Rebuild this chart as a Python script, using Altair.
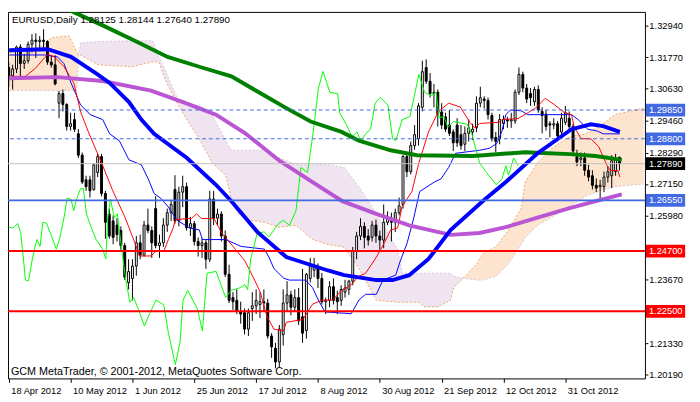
import json
import altair as alt
import pandas as pd

W, H = 650, 374
Y_DOMAIN = [1.20049, 1.33432]
X_DOMAIN = [-0.2, 164.6]
FONT = "Liberation Sans"

# ---------------- candles (bar index 0 = 18 Apr 2012) ----------------
opens = [1.3140, 1.3110, 1.3135, 1.3215, 1.3155, 1.3165, 1.3225, 1.3240, 1.3235, 1.3240,
         1.3235, 1.3160, 1.3150, 1.3010, 1.3045, 1.3005, 1.2925, 1.2950, 1.2898, 1.2820,
         1.2730, 1.2730, 1.2695, 1.2757, 1.2815, 1.2680, 1.2605, 1.2580, 1.2565, 1.2545,
         1.2490, 1.2355, 1.2370, 1.2415, 1.2500, 1.2455, 1.2565, 1.2545, 1.2625, 1.2490,
         1.2500, 1.2565, 1.2610, 1.2695, 1.2580, 1.2685, 1.2705, 1.2555, 1.2570, 1.2505,
         1.2490, 1.2500, 1.2440, 1.2660, 1.2590, 1.2605, 1.2525, 1.2385, 1.2300, 1.2290,
         1.2250, 1.2245, 1.2185, 1.2260, 1.2270, 1.2275, 1.2285, 1.2280, 1.2160, 1.2115,
         1.2065, 1.2165, 1.2280, 1.2310, 1.2265, 1.2300, 1.2230, 1.2180, 1.2370, 1.2400,
         1.2415, 1.2370, 1.2285, 1.2290, 1.2340, 1.2300, 1.2290, 1.2320, 1.2330, 1.2360,
         1.2470, 1.2525, 1.2560, 1.2525, 1.2520, 1.2565, 1.2525, 1.2510, 1.2575, 1.2590,
         1.2575, 1.2610, 1.2640, 1.2815, 1.2760, 1.2855, 1.2880, 1.2995, 1.3140, 1.3090,
         1.3045, 1.3050, 1.2978, 1.2960, 1.2930, 1.2905, 1.2930, 1.2895, 1.2860, 1.2900,
         1.2905, 1.2920, 1.3010, 1.3025, 1.3020, 1.2965, 1.2885, 1.2880, 1.2935, 1.2950,
         1.2945, 1.2945, 1.3050, 1.3115, 1.3065, 1.3045, 1.3015, 1.3060, 1.2980, 1.2970,
         1.2935, 1.2930, 1.2935, 1.2905, 1.2940, 1.2955, 1.2925, 1.2815, 1.2805, 1.2810,
         1.2765, 1.2745, 1.2710, 1.2705, 1.2705, 1.2740, 1.2745, 1.2760, 1.28125]
highs = [1.3160, 1.3150, 1.3220, 1.3225, 1.3190, 1.3235, 1.3262, 1.3265, 1.3255, 1.3280,
         1.3240, 1.3185, 1.3185, 1.3055, 1.3060, 1.3010, 1.2975, 1.2975, 1.2915, 1.2830,
         1.2745, 1.2745, 1.2790, 1.2825, 1.2825, 1.2690, 1.2625, 1.2600, 1.2590, 1.2560,
         1.2500, 1.2440, 1.2440, 1.2525, 1.2530, 1.2580, 1.2625, 1.2560, 1.2670, 1.2530,
         1.2590, 1.2625, 1.2655, 1.2747, 1.2705, 1.2745, 1.2720, 1.2595, 1.2580, 1.2520,
         1.2515, 1.2510, 1.2690, 1.2690, 1.2625, 1.2615, 1.2545, 1.2420, 1.2320, 1.2330,
         1.2285, 1.2260, 1.2260, 1.2320, 1.2330, 1.2320, 1.2330, 1.2295, 1.2170, 1.2135,
         1.2200, 1.2330, 1.2360, 1.2325, 1.2330, 1.2335, 1.2405, 1.2390, 1.2445, 1.2445,
         1.2425, 1.2390, 1.2300, 1.2360, 1.2370, 1.2325, 1.2345, 1.2365, 1.2365, 1.2485,
         1.2540, 1.2590, 1.2575, 1.2550, 1.2580, 1.2585, 1.2545, 1.2640, 1.2615, 1.2610,
         1.2625, 1.2665, 1.2820, 1.2820, 1.2870, 1.2930, 1.3010, 1.3165, 1.3170, 1.3120,
         1.3080, 1.3060, 1.3010, 1.2975, 1.2985, 1.2915, 1.2955, 1.2930, 1.2925, 1.2950,
         1.2935, 1.3035, 1.3070, 1.3035, 1.3030, 1.2975, 1.2905, 1.2970, 1.2965, 1.2960,
         1.2975, 1.3060, 1.3140, 1.3125, 1.3080, 1.3065, 1.3070, 1.3075, 1.2995, 1.2985,
         1.2945, 1.2955, 1.2945, 1.2975, 1.3000, 1.2980, 1.2935, 1.2840, 1.2830, 1.2830,
         1.2785, 1.2765, 1.2735, 1.2730, 1.2760, 1.2780, 1.2820, 1.2825, 1.28144]
lows = [1.3070, 1.3060, 1.3120, 1.3105, 1.3135, 1.3155, 1.3195, 1.3175, 1.3200, 1.3200,
        1.3150, 1.3140, 1.3075, 1.2955, 1.2980, 1.2910, 1.2910, 1.2905, 1.2810, 1.2715,
        1.2690, 1.2665, 1.2690, 1.2740, 1.2670, 1.2515, 1.2515, 1.2495, 1.2505, 1.2475,
        1.2365, 1.2330, 1.2290, 1.2380, 1.2440, 1.2450, 1.2535, 1.2445, 1.2480, 1.2445,
        1.2485, 1.2540, 1.2580, 1.2570, 1.2560, 1.2630, 1.2545, 1.2525, 1.2490, 1.2450,
        1.2445, 1.2405, 1.2430, 1.2565, 1.2565, 1.2505, 1.2375, 1.2280, 1.2255, 1.2240,
        1.2205, 1.2165, 1.2160, 1.2215, 1.2240, 1.2225, 1.2250, 1.2150, 1.2080, 1.2042,
        1.2045, 1.2125, 1.2250, 1.2235, 1.2250, 1.2200, 1.2135, 1.2150, 1.2355, 1.2375,
        1.2335, 1.2275, 1.2240, 1.2265, 1.2275, 1.2240, 1.2270, 1.2300, 1.2310, 1.2345,
        1.2440, 1.2510, 1.2480, 1.2490, 1.2505, 1.2500, 1.2475, 1.2480, 1.2565, 1.2505,
        1.2540, 1.2600, 1.2625, 1.2740, 1.2750, 1.2840, 1.2855, 1.2980, 1.3080, 1.3030,
        1.2995, 1.2925, 1.2915, 1.2905, 1.2890, 1.2835, 1.2850, 1.2840, 1.2835, 1.2870,
        1.2875, 1.2905, 1.2995, 1.2990, 1.2950, 1.2870, 1.2830, 1.2860, 1.2915, 1.2920,
        1.2920, 1.2935, 1.3040, 1.3050, 1.3010, 1.3000, 1.3000, 1.2975, 1.2900, 1.2910,
        1.2885, 1.2915, 1.2880, 1.2890, 1.2930, 1.2905, 1.2825, 1.2780, 1.2780, 1.2745,
        1.2725, 1.2695, 1.2685, 1.2660, 1.2685, 1.2720, 1.2700, 1.2745, 1.27640]
closes = [1.3110, 1.3135, 1.3215, 1.3155, 1.3165, 1.3225, 1.3240, 1.3235, 1.3240, 1.3235,
          1.3160, 1.3150, 1.3080, 1.3045, 1.3005, 1.2925, 1.2935, 1.2915, 1.2820, 1.2722,
          1.2705, 1.2690, 1.2785, 1.2815, 1.2680, 1.2575, 1.2525, 1.2520, 1.2530, 1.2490,
          1.2375, 1.2395, 1.2415, 1.2500, 1.2455, 1.2565, 1.2545, 1.2500, 1.2490, 1.2500,
          1.2565, 1.2610, 1.2640, 1.2580, 1.2685, 1.2705, 1.2555, 1.2570, 1.2505, 1.2490,
          1.2500, 1.2440, 1.2660, 1.2590, 1.2605, 1.2525, 1.2385, 1.2290, 1.2285, 1.2250,
          1.2240, 1.2185, 1.2245, 1.2270, 1.2290, 1.2285, 1.2280, 1.2160, 1.2120, 1.2065,
          1.2185, 1.2280, 1.2310, 1.2265, 1.2300, 1.2215, 1.2170, 1.2385, 1.2415, 1.2415,
          1.2370, 1.2285, 1.2290, 1.2340, 1.2290, 1.2285, 1.2330, 1.2335, 1.2360, 1.2470,
          1.2525, 1.2560, 1.2520, 1.2510, 1.2565, 1.2525, 1.2510, 1.2575, 1.2590, 1.2575,
          1.2610, 1.2635, 1.2815, 1.2760, 1.2855, 1.2895, 1.3000, 1.3125, 1.3090, 1.3045,
          1.3050, 1.2970, 1.2930, 1.2915, 1.2900, 1.2865, 1.2865, 1.2855, 1.2900, 1.2920,
          1.2915, 1.3010, 1.3030, 1.3020, 1.2968, 1.2880, 1.2870, 1.2950, 1.2950, 1.2945,
          1.2950, 1.3050, 1.3115, 1.3065, 1.3025, 1.3030, 1.3060, 1.2985, 1.2965, 1.2925,
          1.2930, 1.2935, 1.2890, 1.2955, 1.2975, 1.2925, 1.2835, 1.2795, 1.2810, 1.2765,
          1.2740, 1.2710, 1.2700, 1.2710, 1.2740, 1.2760, 1.2800, 1.2805, 1.27890]

tick_index = [0, 16, 32, 48, 64, 80, 96, 112, 128, 144]
tick_dates = ["18 Apr 2012", "10 May 2012", "1 Jun 2012", "25 Jun 2012", "17 Jul 2012",
              "8 Aug 2012", "30 Aug 2012", "21 Sep 2012", "12 Oct 2012", "31 Oct 2012"]
price_ticks = [1.32940, 1.31770, 1.30630, 1.29460, 1.28290, 1.27150, 1.25980,
               1.23670, 1.21330, 1.20190]

# ---------------- horizontal levels ----------------
level_prices = [1.29850, 1.28800, 1.27890, 1.26550, 1.24700, 1.22500]
level_label = ["1.29850", "1.28800", "1.27890", "1.26550", "1.24700", "1.22500"]
level_line_color = ["#4169E1", "#4169E1", "#C0C0C0", "#4169E1", "#FF0000", "#FF0000"]
level_line_width = [1, 1, 1, 2, 2, 2]
level_dashed = [True, True, False, False, False, False]
level_box_color = ["#4169E1", "#4169E1", "#000000", "#4169E1", "#FF0000", "#FF0000"]

# ---------------- moving averages ----------------
sma200_i = [0, 16.1, 24.3, 32.6, 41.1, 49.3, 57.6, 64.8, 71.8, 78.1, 86.1, 90.6, 98.8,
            105.6, 120.1, 133.6, 145.1, 151.8, 158.6]
sma200_p = [1.3440, 1.3347, 1.3294, 1.3238, 1.3179, 1.3143, 1.3108, 1.3049, 1.2992, 1.2943,
            1.2905, 1.2873, 1.2838, 1.2820, 1.2817, 1.2831, 1.2824, 1.2817, 1.2803]
sma100_i = [0.1, 12.6, 24.3, 36.8, 45.1, 53.6, 61.1, 70.1, 78.6, 86.3, 95.1, 103.6, 114.3,
            121.8, 128.6, 136.8, 145.1, 153.6, 158.6]
sma100_p = [1.3101, 1.3105, 1.3091, 1.3056, 1.3014, 1.2968, 1.2901, 1.2799, 1.2722, 1.2652,
            1.2606, 1.2564, 1.2529, 1.2536, 1.2557, 1.2592, 1.2627, 1.2659, 1.2677]
sma55_i = [0.1, 10.1, 16.1, 22.6, 26.1, 31.1, 34.3, 37.6, 46.1, 53.6, 57.6, 64.3, 71.8,
           82.6, 86.8, 95.1, 99.3, 103.6, 108.6, 114.3, 122.6, 128.6, 136.8, 141.1, 145.6,
           150.6, 153.8, 158.1]
sma55_p = [1.3203, 1.3207, 1.3179, 1.3119, 1.3084, 1.3014, 1.2950, 1.2898, 1.2810, 1.2712,
           1.2652, 1.2540, 1.2448, 1.2399, 1.2382, 1.2364, 1.2364, 1.2382, 1.2441, 1.2547,
           1.2652, 1.2722, 1.2827, 1.2870, 1.2915, 1.2933, 1.2926, 1.2905]

# ---------------- Ichimoku ----------------
tenkan_i = [0.1, 4.3, 6.8, 10.1, 11.8, 14.3, 16.8, 18.6, 20.6, 24.3, 26.8, 30.1, 32.6, 33.8,
            36.8, 38.1, 40.1, 41.3, 42.6, 43.1, 47.3, 48.6, 49.8, 53.1, 55.1, 58.6, 61.1,
            63.6, 65.1, 66.8, 68.6, 71.1, 71.8, 76.1, 78.6, 81.1, 83.8, 86.1, 88.6, 90.6,
            92.3, 94.8, 96.3, 97.6, 98.8, 100.6, 101.8, 104.3, 106.1, 108.6, 111.1, 113.8,
            116.8, 119.3, 120.6, 121.8, 126.8, 127.6, 131.8, 136.3, 138.8, 141.3, 143.8,
            145.6, 146.3, 148.1, 150.6, 152.6, 154.8, 155.6, 157.6, 158.1]
tenkan_p = [1.3108, 1.3108, 1.3136, 1.3189, 1.3179, 1.3143, 1.3084, 1.2978, 1.2905, 1.2782,
            1.2694, 1.2592, 1.2501, 1.2452, 1.2452, 1.2469, 1.2469, 1.2512, 1.2557, 1.2585,
            1.2589, 1.2606, 1.2589, 1.2589, 1.2536, 1.2477, 1.2434, 1.2364, 1.2319, 1.2231,
            1.2185, 1.2178, 1.2210, 1.2220, 1.2276, 1.2291, 1.2291, 1.2326, 1.2347, 1.2378,
            1.2389, 1.2441, 1.2477, 1.2512, 1.2547, 1.2554, 1.2634, 1.2687, 1.2792, 1.2905,
            1.2978, 1.3010, 1.2996, 1.2940, 1.2919, 1.2936, 1.2940, 1.2950, 1.2954, 1.2992,
            1.3028, 1.3003, 1.2975, 1.2968, 1.2922, 1.2880, 1.2880, 1.2852, 1.2782, 1.2764,
            1.2764, 1.2740]
kijun_i = [0.1, 9.3, 12.6, 14.3, 16.1, 18.6, 21.1, 24.3, 26.1, 28.6, 31.1, 34.3, 36.1, 37.6,
           39.3, 41.1, 43.6, 46.8, 49.3, 50.1, 56.1, 60.1, 66.1, 67.3, 68.6, 71.1, 72.6,
           76.8, 78.6, 80.1, 81.8, 88.6, 90.6, 92.3, 95.1, 96.8, 100.1, 101.3, 103.1, 104.8,
           106.3, 110.1, 111.8, 113.8, 115.6, 121.8, 124.3, 126.3, 127.6, 128.6, 129.8, 132.6,
           134.3, 145.6, 147.3, 149.8, 152.3, 153.8, 158.1]
kijun_p = [1.3186, 1.3186, 1.3179, 1.3154, 1.3084, 1.3003, 1.2968, 1.2950, 1.2898, 1.2873,
           1.2803, 1.2785, 1.2733, 1.2680, 1.2663, 1.2634, 1.2582, 1.2554, 1.2547, 1.2512,
           1.2512, 1.2487, 1.2477, 1.2448, 1.2406, 1.2371, 1.2364, 1.2364, 1.2336, 1.2291,
           1.2248, 1.2241, 1.2291, 1.2312, 1.2312, 1.2364, 1.2382, 1.2434, 1.2501, 1.2592,
           1.2687, 1.2722, 1.2733, 1.2775, 1.2827, 1.2838, 1.2845, 1.2863, 1.2908, 1.2968,
           1.2985, 1.2982, 1.2968, 1.2968, 1.2950, 1.2915, 1.2908, 1.2898, 1.2898]
chikou_i = [0.1, 1.1, 2.3, 3.1, 3.8, 4.3, 5.1, 6.1, 6.8, 7.3, 8.1, 8.8, 9.8, 11.1, 12.3, 13.1,
            14.3, 15.1, 16.1, 16.8, 17.6, 18.6, 19.3, 20.1, 21.3, 22.6, 24.3, 25.1, 25.6,
            26.3, 27.3, 28.1, 29.3, 30.1, 31.3, 32.3, 33.6, 35.1, 36.1, 38.1, 40.1, 41.3,
            43.1, 44.3, 45.1, 46.3, 47.6, 48.8, 50.1, 51.3, 53.6, 56.1, 57.6, 59.8, 61.1,
            61.8, 62.6, 64.3, 66.1, 67.3, 68.6, 69.8, 71.1, 72.6, 74.3, 75.6, 77.3, 78.1,
            78.8, 80.1, 81.3, 83.1, 85.1, 85.6, 87.3, 88.8, 90.1, 91.1, 92.3, 93.6, 94.8,
            96.1, 98.1, 99.3, 100.1, 101.8, 103.8, 104.8, 106.1, 107.6, 109.3, 110.6, 111.3,
            112.6, 113.6, 115.1, 118.6, 119.8, 121.8, 123.6, 126.1, 127.6, 128.6, 129.3,
            130.6, 131.8]
chikou_p = [1.2557, 1.2554, 1.2571, 1.2536, 1.2441, 1.2364, 1.2361, 1.2441, 1.2487, 1.2512,
            1.2487, 1.2575, 1.2571, 1.2522, 1.2477, 1.2512, 1.2592, 1.2663, 1.2659, 1.2617,
            1.2663, 1.2698, 1.2698, 1.2606, 1.2557, 1.2512, 1.2477, 1.2441, 1.2592, 1.2659,
            1.2592, 1.2606, 1.2466, 1.2382, 1.2283, 1.2301, 1.2255, 1.2196, 1.2231, 1.2291,
            1.2273, 1.2171, 1.2055, 1.2136, 1.2291, 1.2326, 1.2291, 1.2259, 1.2178, 1.2389,
            1.2396, 1.2301, 1.2326, 1.2336, 1.2347, 1.2329, 1.2441, 1.2536, 1.2540, 1.2522,
            1.2547, 1.2571, 1.2582, 1.2564, 1.2617, 1.2775, 1.2757, 1.2838, 1.2908, 1.3063,
            1.3126, 1.3049, 1.3045, 1.2975, 1.2933, 1.2887, 1.2905, 1.2870, 1.2898, 1.2915,
            1.3010, 1.3031, 1.3003, 1.2880, 1.2873, 1.2950, 1.2961, 1.3028, 1.3115, 1.3049,
            1.3038, 1.3049, 1.2957, 1.2961, 1.2922, 1.2943, 1.2933, 1.2898, 1.2792, 1.2757,
            1.2712, 1.2733, 1.2782, 1.2747, 1.2810, 1.2782]
cloud_i = [0.1, 8.1, 11.1, 15.6, 17.6, 18.1, 18.6, 23.1, 31.8, 37.3, 38.8, 40.6, 43.8, 46.8,
           49.3, 52.6, 56.1, 57.6, 59.3, 62.6, 66.1, 70.1, 74.3, 78.6, 82.6, 86.8, 90.6,
           95.1, 100.6, 101.8, 106.1, 107.6, 111.1, 114.3, 115.1, 117.6, 121.1, 122.6, 126.1,
           129.3, 132.6, 133.6, 136.8, 141.1, 145.1, 149.3, 153.6, 156.8, 164.3]
senkou_a = [1.3196, 1.3214, 1.3249, 1.3256, 1.3196, 1.3189, 1.3186, 1.3150, 1.3143, 1.3161,
            1.3161, 1.3091, 1.3003, 1.2933, 1.2880, 1.2792, 1.2747, 1.2663, 1.2606, 1.2582,
            1.2575, 1.2557, 1.2564, 1.2512, 1.2494, 1.2484, 1.2406, 1.2290, 1.2283, 1.2283,
            1.2283, 1.2266, 1.2266, 1.2290, 1.2336, 1.2371, 1.2424, 1.2459, 1.2487, 1.2547,
            1.2627, 1.2722, 1.2792, 1.2852, 1.2887, 1.2898, 1.2933, 1.2968, 1.2992]
senkou_b = [1.3056, 1.3056, 1.3056, 1.3056, 1.3056, 1.3189, 1.3231, 1.3235, 1.3238, 1.3238,
            1.3179, 1.3126, 1.3021, 1.3003, 1.3003, 1.2968, 1.2873, 1.2838, 1.2838, 1.2838,
            1.2838, 1.2810, 1.2785, 1.2785, 1.2785, 1.2775, 1.2705, 1.2606, 1.2477, 1.2389,
            1.2389, 1.2389, 1.2389, 1.2389, 1.2378, 1.2371, 1.2364, 1.2364, 1.2378, 1.2424,
            1.2494, 1.2519, 1.2564, 1.2599, 1.2634, 1.2670, 1.2694, 1.2705, 1.2715]

header = "EURUSD,Daily  1.28125 1.28144 1.27640 1.27890"
footer = "GCM MetaTrader, \u00a9 2001-2012, MetaQuotes Software Corp."

# ---------------- tables ----------------
candles = pd.DataFrame({"i": list(range(len(opens))), "open": opens, "high": highs,
                        "low": lows, "close": closes})


def line_df(xs, ps):
    return pd.DataFrame({"i": xs, "p": ps})


cloud_rows = []
seg, cur_sign = 0, 0
for k in range(len(cloud_i)):
    a, b = senkou_a[k], senkou_b[k]
    s = (a > b) - (a < b)
    if s == 0:
        cloud_rows.append({"i": cloud_i[k], "a": a, "b": b, "seg": seg, "kind": "up" if cur_sign > 0 else "down"})
        seg += 1
        cur_sign = 0
        cloud_rows.append({"i": cloud_i[k], "a": a, "b": b, "seg": seg, "kind": "pending"})
    else:
        if cur_sign == 0:
            for r in cloud_rows:
                if r["seg"] == seg and r["kind"] == "pending":
                    r["kind"] = "up" if s > 0 else "down"
            cur_sign = s
        cloud_rows.append({"i": cloud_i[k], "a": a, "b": b, "seg": seg, "kind": "up" if s > 0 else "down"})
cloud = pd.DataFrame(cloud_rows)

levels = pd.DataFrame({"p": level_prices, "label": level_label, "lc": level_line_color,
                       "lw": level_line_width, "dashed": level_dashed, "bc": level_box_color})

xs = alt.Scale(domain=X_DOMAIN, zero=False, nice=False)
ys = alt.Scale(domain=Y_DOMAIN, zero=False, nice=False)
label_expr = json.dumps(tick_dates) + "[round(datum.value / 16)]"

AXX = alt.Axis(values=tick_index, labelExpr=label_expr, tickSize=4, tickColor="black",
               labelAlign="left", labelBaseline="top", labelOffset=2, labelPadding=3,
               labelFlush=False, labelOverlap=False, labelBound=False, domain=False,
               grid=False, title=None, labelFont=FONT, labelFontSize=9.5, labelColor="black")
AXY = alt.Axis(orient="right", values=price_ticks, format=".5f", tickSize=3, tickColor="black",
               labelPadding=1, labelFlush=False, labelOverlap=False, labelBound=False,
               domain=False, grid=False, title=None, labelFont=FONT, labelFontSize=9.5,
               labelColor="black")


def X(f="i"):
    return alt.X(f"{f}:Q", scale=xs, axis=AXX)


def Y(f="p"):
    return alt.Y(f"{f}:Q", scale=ys, axis=AXY)


# cloud
cloud_area = alt.Chart(cloud).mark_area(clip=True).encode(
    x=X(), y=Y("a"), y2="b:Q", detail="seg:N",
    color=alt.Color("kind:N", scale=alt.Scale(domain=["up", "down"], range=["#F4A460", "#D8BFD8"]), legend=None),
    opacity=alt.Opacity("kind:N", scale=alt.Scale(domain=["up", "down"], range=[0.3, 0.42]), legend=None),
)
senkA = alt.Chart(line_df(cloud_i, senkou_a)).mark_line(color="#F4A460", strokeWidth=1, strokeDash=[2, 2], clip=True).encode(x=X(), y=Y())
senkB = alt.Chart(line_df(cloud_i, senkou_b)).mark_line(color="#D8BFD8", strokeWidth=1, strokeDash=[2, 2], clip=True).encode(x=X(), y=Y())

# candles
wicks = alt.Chart(candles).mark_rule(color="black", strokeWidth=1, clip=True).encode(
    x=X(), y=Y("low"), y2="high:Q",
)
bodies = alt.Chart(candles).transform_calculate(
    xl="datum.i - 0.25", xr="datum.i + 0.25"
).mark_rect(stroke="black", strokeWidth=1, clip=True).encode(
    x=X("xl"), x2="xr:Q", y=Y("open"), y2="close:Q",
    fill=alt.condition("datum.close >= datum.open", alt.value("white"), alt.value("black")),
)

kijun = alt.Chart(line_df(kijun_i, kijun_p)).mark_line(color="#0000FF", strokeWidth=1, clip=True).encode(x=X(), y=Y())
tenkan = alt.Chart(line_df(tenkan_i, tenkan_p)).mark_line(color="#FF0000", strokeWidth=1, clip=True).encode(x=X(), y=Y())
chikou = alt.Chart(line_df(chikou_i, chikou_p)).mark_line(color="#00FF00", strokeWidth=1, clip=True).encode(x=X(), y=Y())
sma200 = alt.Chart(line_df(sma200_i, sma200_p)).mark_line(color="#008000", strokeWidth=4, clip=True).encode(x=X(), y=Y())
sma100 = alt.Chart(line_df(sma100_i, sma100_p)).mark_line(color="#BA55D3", strokeWidth=4, clip=True).encode(x=X(), y=Y())
sma55 = alt.Chart(line_df(sma55_i, sma55_p)).mark_line(color="#0000FF", strokeWidth=4, clip=True).encode(x=X(), y=Y())

# horizontal levels
lv_dash = alt.Chart(levels).transform_filter("datum.dashed").mark_rule(strokeDash=[4, 3], clip=True).encode(
    y=Y(), color=alt.Color("lc:N", scale=None), strokeWidth=alt.StrokeWidth("lw:Q", scale=None))
lv_solid = alt.Chart(levels).transform_filter("!datum.dashed").mark_rule(clip=True).encode(
    y=Y(), color=alt.Color("lc:N", scale=None), strokeWidth=alt.StrokeWidth("lw:Q", scale=None))
box = alt.Chart(levels).mark_rule(strokeWidth=13, strokeCap="butt").encode(
    y=Y(), x=alt.value(W + 1), x2=alt.value(W + 41), color=alt.Color("bc:N", scale=None))
box_text = alt.Chart(levels).mark_text(align="left", baseline="middle", font=FONT, fontSize=9.5, color="white").encode(
    y=Y(), x=alt.value(W + 4), text="label:N")

head = alt.Chart(pd.DataFrame({"t": [header]})).mark_text(
    align="left", baseline="middle", font=FONT, fontSize=10, color="black"
).encode(x=alt.value(4), y=alt.value(8), text="t:N")
foot = alt.Chart(pd.DataFrame({"t": [footer]})).mark_text(
    align="left", baseline="middle", font=FONT, fontSize=11, color="black"
).encode(x=alt.value(3), y=alt.value(H - 7), text="t:N")

chart = alt.layer(
    cloud_area, senkA, senkB, wicks, bodies, kijun, tenkan, chikou,
    sma200, sma100, sma55, lv_dash, lv_solid, box, box_text, head, foot
).properties(width=W, height=H, padding=0, background="white").configure_view(
    stroke="black", strokeWidth=1
)

chart.save("out.html", embed_options={"renderer": "svg", "actions": False})
